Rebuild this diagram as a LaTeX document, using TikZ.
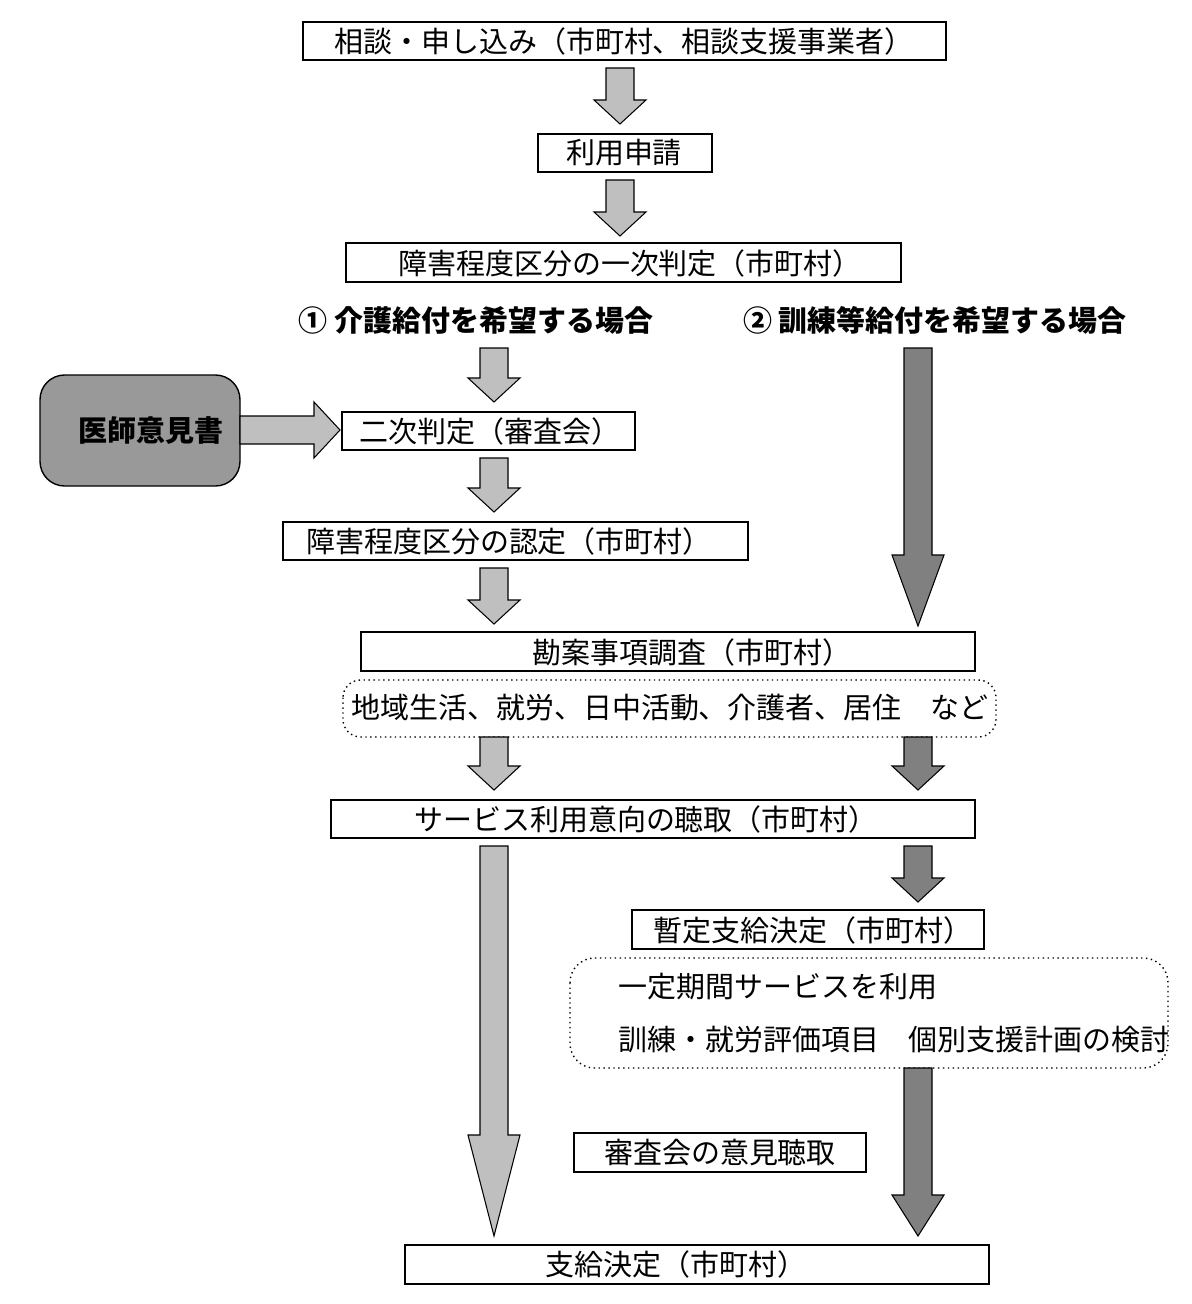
\documentclass[tikz,border=0pt]{standalone}
\usepackage{fontspec}
\setmainfont{Noto Sans CJK JP}
\begin{document}
\begin{tikzpicture}[x=0.02cm,y=-0.02cm,
 bx/.style={draw=black,line width=0.6pt,fill=white},
 tx/.style={font=\fontsize{16.5}{18}\selectfont,inner sep=0pt},
 hd/.style={font=\fontsize{16.5}{18}\selectfont\bfseries,inner sep=0pt},
 lt/.style={fill=black!25,draw=black,line width=0.6pt},
 dk/.style={fill=black!50,draw=black,line width=0.6pt}]
\useasboundingbox (0,0) rectangle (1192,1304);
\newcommand\varrow[6]{% x, y1, y2, headstart, style, halfs
 \filldraw[#5] (#1-14,#2) -- (#1+14,#2) -- (#1+14,#4) -- (#1+#6,#4) -- (#1,#3) -- (#1-#6,#4) -- (#1-14,#4) -- cycle;}
% boxes
\draw[bx] (303,22) rectangle (946,60); \node[tx] (a) at (624,41) {相談・申し込み（市町村、相談支援事業者）};
\draw[bx] (538,134) rectangle (712,172); \node[tx] (b) at (624,153) {利用申請};
\draw[bx] (346,243) rectangle (901,282); \node[tx] (c) at (630,263) {障害程度区分の一次判定（市町村）};
\node[hd] (h1) at (476,320) {① 介護給付を希望する場合};
\node[hd] (h2) at (935,320) {② 訓練等給付を希望する場合};
\draw[fill=black!40,draw=black,line width=0.8pt,rounded corners=14pt] (40,375) rectangle (240,486);
\node[hd] (d) at (151,431) {医師意見書};
\draw[bx] (342,412) rectangle (635,450); \node[tx] (e) at (490,431) {二次判定（審査会）};
\draw[bx] (283,522) rectangle (748,560); \node[tx] (f) at (509,541) {障害程度区分の認定（市町村）};
\draw[bx] (361,632) rectangle (975,671); \node[tx] (g) at (692,652) {勘案事項調査（市町村）};
\draw[dotted,line width=0.8pt,rounded corners=10pt] (343,680) rectangle (996,737);
\node[tx] (g2) at (670,708) {地域生活、就労、日中活動、介護者、居住　など};
\draw[bx] (331,800) rectangle (975,838); \node[tx] (h) at (646,819) {サービス利用意向の聴取（市町村）};
\draw[bx] (632,910) rectangle (984,949); \node[tx] (i) at (813,930) {暫定支給決定（市町村）};
\draw[dotted,line width=0.8pt,rounded corners=14pt] (570,958) rectangle (1168,1068);
\node[tx,anchor=west] (i1) at (618,987) {一定期間サービスを利用};
\node[tx,anchor=west] (i2) at (618,1040) {訓練・就労評価項目　個別支援計画の検討};
\draw[bx] (574,1133) rectangle (866,1172); \node[tx] (j) at (720,1153) {審査会の意見聴取};
\draw[bx] (405,1245) rectangle (989,1284); \node[tx] (k) at (676,1264) {支給決定（市町村）};
% arrows
\varrow{620}{68}{124}{100}{lt}{26}
\varrow{620}{180}{236}{212}{lt}{26}
\varrow{494}{348}{402}{378}{lt}{26}
\varrow{494}{458}{512}{488}{lt}{26}
\varrow{494}{568}{624}{600}{lt}{26}
\varrow{494}{737}{790}{766}{lt}{26}
\varrow{494}{846}{1236}{1135}{lt}{26}
\varrow{918}{348}{626}{555}{dk}{26}
\varrow{918}{737}{790}{766}{dk}{26}
\varrow{918}{846}{902}{878}{dk}{26}
\varrow{918}{1068}{1236}{1195}{dk}{26}
\filldraw[lt] (240,416) -- (314,416) -- (314,402) -- (340,430) -- (314,458) -- (314,444) -- (240,444) -- cycle;
\end{tikzpicture}
\end{document}
